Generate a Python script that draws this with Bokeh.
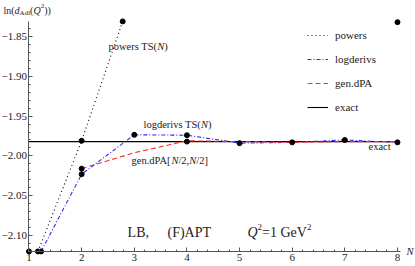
import numpy as np
from bokeh.plotting import figure
from bokeh.models import (Label, Range1d, FixedTicker, CustomJSTickFormatter,
                          Legend, LegendItem)
from bokeh.embed import file_html
from bokeh.resources import INLINE

# ---------------- data ----------------
POWERS_N = [1.17, 2, 2.78]
POWERS_V = [-2.12, -1.981, -1.831]

LOGDER_N = [1.23, 2, 3, 4, 5, 6, 7, 8]
LOGDER_V = [-2.12, -2.023, -1.9735, -1.974, -1.984, -1.983, -1.980, -1.983]

GENDPA_N = [2, 3, 4, 5, 6, 7, 8]
GENDPA_V = [-2.016, -1.996, -1.981, -1.982, -1.983, -1.982, -1.982]
GENDPA_DOT_N = [2, 4]
GENDPA_DOT_V = [-2.016, -1.982]

EXACT_V = -1.982
N_LIMITS = [1, 8]

EXTRA_N = [1, 8]
EXTRA_V = [-2.12, -1.832]

X_TICKS = [1, 2, 3, 4, 5, 6, 7, 8]
Y_TICKS = [-2.10, -2.05, -2.00, -1.95, -1.90, -1.85]
X_AXIS_SPAN = (1, 8.06)          # where the horizontal axis is drawn
Y_AXIS_SPAN = (-2.12, -1.831)    # where the vertical axis is drawn

SERIF = "Liberation Serif"
BLUE = "#2b2bff"
RED = "#ff2a2a"
AXC = "#555555"
TXT = "#222222"

W, H = 415, 266

# the frame covers the whole canvas; axes are placed at the data origin
p = figure(width=W, height=H, output_backend="svg", toolbar_location=None,
           x_range=Range1d(0.4586, 8.3423), y_range=Range1d(-2.13894, -1.80477),
           min_border=0)
p.grid.visible = False
p.outline_line_color = None
p.background_fill_color = "white"

for ax in (p.xaxis[0], p.yaxis[0]):
    ax.axis_line_color = AXC
    ax.major_tick_line_color = AXC
    ax.minor_tick_line_color = AXC
    ax.major_tick_in = 4
    ax.major_tick_out = 0
    ax.minor_tick_in = 2
    ax.minor_tick_out = 0
    ax.major_label_text_font = SERIF
    ax.major_label_text_font_size = "11px"
    ax.major_label_text_color = TXT
p.xaxis.major_label_standoff = 3
p.yaxis.major_label_standoff = 2
p.xaxis.fixed_location = Y_AXIS_SPAN[0]
p.yaxis.fixed_location = X_AXIS_SPAN[0]
p.xaxis.bounds = X_AXIS_SPAN
p.yaxis.bounds = Y_AXIS_SPAN

p.xaxis.ticker = FixedTicker(ticks=X_TICKS,
                             minor_ticks=list(np.round(np.arange(1, 8.001, 0.2), 3)))
p.yaxis.ticker = FixedTicker(ticks=Y_TICKS,
                             minor_ticks=list(np.round(np.arange(-2.12, -1.839, 0.01), 3)))
p.yaxis.formatter = CustomJSTickFormatter(
    code="return (tick < 0 ? '\\u2212' : '') + Math.abs(tick).toFixed(2);")

# series styles
STYLES = {
    "powers": dict(line_color="black", line_dash="1 3"),
    "logderivs": dict(line_color=BLUE, line_dash="4 2 1 2"),
    "gen.dPA": dict(line_color=RED, line_dash="5 3"),
    "exact": dict(line_color="black", line_dash="solid"),
}

# lines
p.line(N_LIMITS, [EXACT_V, EXACT_V], line_width=1.1, **STYLES["exact"])
p.line(POWERS_N, POWERS_V, line_width=1.1, **STYLES["powers"])
p.line(LOGDER_N, LOGDER_V, line_width=1.1, **STYLES["logderivs"])
p.line(GENDPA_N, GENDPA_V, line_width=1.1, **STYLES["gen.dPA"])

# dots
for xs, ys in ((POWERS_N, POWERS_V), (LOGDER_N, LOGDER_V),
               (GENDPA_DOT_N, GENDPA_DOT_V), (EXTRA_N, EXTRA_V)):
    p.scatter(xs, ys, size=5, color="black")

# legend (keys drawn by dedicated renderers holding one undefined point)
legend_items = []
for name in ["powers", "logderivs", "gen.dPA", "exact"]:
    r = p.line(x=[np.nan], y=[np.nan], line_width=1.1, **STYLES[name])
    legend_items.append(LegendItem(label=name, renderers=[r]))
lg = Legend(items=legend_items, location=(307, 149), padding=0, margin=0,
            spacing=4, glyph_width=21, glyph_height=20, label_height=20,
            label_standoff=7, border_line_alpha=0, background_fill_alpha=0,
            label_text_font=SERIF, label_text_font_size="11px",
            label_text_color=TXT)
p.add_layout(lg, "center")

# rich text helper
EM = {'p': .5, 'o': .5, 'w': .722, 'e': .444, 'r': .333, 's': .389, ' ': .25,
      'T': .611, 'S': .556, '(': .333, ')': .333, 'N': .667, 'l': .278, 'g': .5,
      'd': .5, 'i': .278, 'v': .5, 'n': .5, '.': .25, 'P': .556, 'A': .722,
      '[': .333, ']': .333, '/': .278, ',': .25, '2': .5, 'D': .722, 'F': .556,
      'B': .667, 'L': .611, 'Q': .722, '=': .564, '1': .5, 'G': .722, 'V': .722,
      'x': .5, 'a': .444, 'c': .444, 't': .278}


def width(s, size):
    return sum(EM.get(c, .5) for c in s) * size


def rich(x, y, parts):
    cur = 0.0
    for text, style, size, dy in parts:
        p.add_layout(Label(x=x, y=y, x_offset=cur, y_offset=dy, text=text,
                           text_font=SERIF, text_font_style=style,
                           text_font_size=f"{size}px", text_color=TXT,
                           text_baseline="middle", text_align="left"))
        cur += width(text, size)


F = 10.5
rich(2.51, -1.8626, [("powers TS(", "normal", F, 0), ("N", "italic", F, 0),
                     (")", "normal", F, 0)])
rich(3.175, -1.9606, [("logderivs TS(", "normal", F, 0), ("N", "italic", F, 0),
                      (")", "normal", F, 0)])
rich(2.947, -2.0058, [("gen.dPA[", "normal", F, 0), ("N", "italic", F, 0),
                      ("/2,", "normal", F, 0), ("N", "italic", F, 0),
                      ("/2]", "normal", F, 0)])
p.add_layout(Label(x=7.87, y=-1.988, text="exact", text_font=SERIF,
                   text_font_size=f"{F}px", text_color=TXT,
                   text_baseline="middle", text_align="right"))

# bottom caption
B = 14
rich(2.873, -2.0962, [("LB,", "normal", B, 0)])
rich(3.631, -2.0962, [("(F)APT", "normal", B, 0)])
rich(5.151, -2.0962, [("Q", "italic", B, 0), ("2", "normal", 9, 5),
                      ("=1 GeV", "normal", B, 0), ("2", "normal", 9, 5)])

# axis titles
rich(0.5156, -1.8173, [("ln(", "normal", 10, 0), ("d", "italic", 10, 0),
                       ("Adl", "normal", 7, -3), ("(", "normal", 10, 0),
                       ("Q", "italic", 10, 0), ("2", "normal", 7, 4),
                       ("))", "normal", 10, 0)])
rich(8.171, -2.12, [("N", "italic", 10.5, 0)])

open("out.html", "w").write(file_html(p, INLINE))
